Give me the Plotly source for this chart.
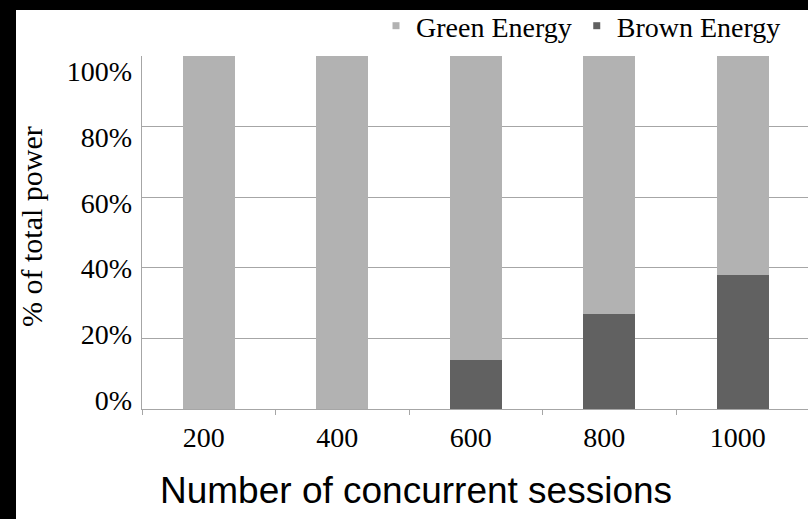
import plotly.graph_objects as go

# ---- data ----
sessions = ["200", "400", "600", "800", "1000"]
brown_energy = [0, 0, 14, 27, 38]
green_energy = [100, 100, 86, 73, 62]
y_tick_vals = [0, 20, 40, 60, 80, 100]
y_tick_text = ["0%", "20%", "40%", "60%", "80%", "100%"]

GREEN = "#b2b2b2"
BROWN = "#616161"
GRID = "#a6a6a6"
SERIF = "Liberation Serif, Times New Roman, serif"
SANS = "Liberation Sans, Arial, sans-serif"
TXT = "#000000"

W, H = 808, 519
L, R, T, B = 142, 0, 56, 110
pw, ph = W - L - R, H - T - B


def px(x):
    return (x - L) / pw


def py(y):
    return (H - B - y) / ph


fig = go.Figure()
fig.add_trace(go.Bar(x=sessions, y=brown_energy, name="Brown Energy",
                     marker=dict(color=BROWN, line=dict(width=0)), showlegend=False))
fig.add_trace(go.Bar(x=sessions, y=green_energy, name="Green Energy",
                     marker=dict(color=GREEN, line=dict(width=0)), showlegend=False))
# legend entries
fig.add_trace(go.Scatter(x=[None], y=[None], mode="markers", name="Green Energy",
                         marker=dict(symbol="square", size=7, color=GREEN), yaxis="y2"))
fig.add_trace(go.Scatter(x=[None], y=[None], mode="markers", name="Brown Energy",
                         marker=dict(symbol="square", size=7, color=BROWN), yaxis="y2"))

fig.update_layout(
    width=W, height=H, autosize=False,
    margin=dict(l=L, r=R, t=T, b=B, pad=0),
    paper_bgcolor="black", plot_bgcolor="white",
    barmode="stack", bargap=0.61,
    font=dict(family=SERIF, size=28, color=TXT),
    xaxis=dict(type="category", categoryorder="array", categoryarray=sessions,
               range=[-0.5, -0.5 + pw / 133.5],
               showgrid=False, showline=True, linecolor=GRID, linewidth=1,
               ticks="outside", tickson="boundaries", ticklen=5, tickcolor=GRID,
               tickfont=dict(family=SERIF, size=28, color=TXT),
               ticklabelshift=-5, ticklabelstandoff=3, zeroline=False),
    yaxis=dict(range=[0, 100], tickvals=y_tick_vals, showticklabels=False,
               showgrid=True, gridcolor=GRID, gridwidth=1,
               showline=True, linecolor=GRID, linewidth=1, ticks="", zeroline=False),
    yaxis2=dict(overlaying="y", side="left", anchor="x", range=[-2.74, 104.72],
                tickvals=y_tick_vals, ticktext=y_tick_text, showgrid=False,
                showline=False, zeroline=False, ticks="",
                tickfont=dict(family=SERIF, size=28, color=TXT),
                ticklabelstandoff=9),
    legend=dict(orientation="h", x=px(376), xanchor="left", y=py(26), yanchor="middle",
                bgcolor="rgba(0,0,0,0)", font=dict(family=SERIF, size=28, color=TXT),
                traceorder="normal", itemclick=False),
    shapes=[dict(type="rect", xref="paper", yref="paper", layer="below",
                 x0=px(16), x1=1.01, y0=py(530), y1=py(10),
                 fillcolor="white", line=dict(width=0))],
    annotations=[
        dict(text="% of total power", xref="paper", yref="paper",
             x=px(31.5), y=py(226.5), xanchor="center", yanchor="middle",
             textangle=-90, showarrow=False,
             font=dict(family=SERIF, size=30, color=TXT)),
        dict(text="Number of concurrent sessions", xref="paper", yref="paper",
             x=px(416), y=py(490), xanchor="center", yanchor="middle",
             showarrow=False, font=dict(family=SANS, size=37, color=TXT)),
    ],
)

fig.write_html("out.html")
